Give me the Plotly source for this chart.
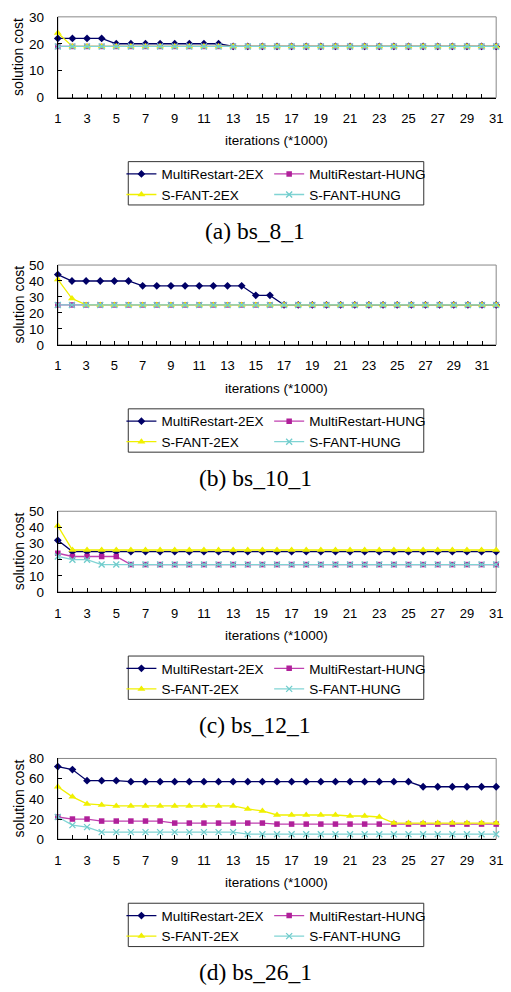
import plotly.graph_objects as go

# ---------------- data ----------------
SERIES_NAMES = ["MultiRestart-2EX", "MultiRestart-HUNG", "S-FANT-2EX", "S-FANT-HUNG"]
X_TITLE = "iterations (*1000)"
Y_TITLE = "solution cost"
CAPTIONS = ["(a) bs_8_1", "(b) bs_10_1", "(c) bs_12_1", "(d) bs_26_1"]

ITER_31 = list(range(1, 32))
ITER_32 = list(range(1, 33))
XTICK_LABELS_31 = ["1", "", "3", "", "5", "", "7", "", "9", "", "11", "", "13", "", "15", "",
                   "17", "", "19", "", "21", "", "23", "", "25", "", "27", "", "29", "", "31"]
XTICK_LABELS_32 = XTICK_LABELS_31 + [""]

# (a) bs_8_1
A_MR_2EX = [22, 22, 22, 22, 20, 20, 20, 20, 20, 20, 20, 20, 19, 19, 19, 19, 19, 19, 19, 19,
            19, 19, 19, 19, 19, 19, 19, 19, 19, 19, 19]
A_MR_HUNG = [19, 19, 19, 19, 19, 19, 19, 19, 19, 19, 19, 19, 19, 19, 19, 19, 19, 19, 19, 19,
             19, 19, 19, 19, 19, 19, 19, 19, 19, 19, 19]
A_SF_2EX = [24, 19, 19, 19, 19, 19, 19, 19, 19, 19, 19, 19, 19, 19, 19, 19, 19, 19, 19, 19,
            19, 19, 19, 19, 19, 19, 19, 19, 19, 19, 19]
A_SF_HUNG = [19, 19, 19, 19, 19, 19, 19, 19, 19, 19, 19, 19, 19, 19, 19, 19, 19, 19, 19, 19,
             19, 19, 19, 19, 19, 19, 19, 19, 19, 19, 19]
A_YTICKS = [0, 10, 20, 30]

# (b) bs_10_1  (32 iterations)
B_MR_2EX = [44, 40, 40, 40, 40, 40, 37, 37, 37, 37, 37, 37, 37, 37, 31, 31, 25, 25, 25, 25,
            25, 25, 25, 25, 25, 25, 25, 25, 25, 25, 25, 25]
B_MR_HUNG = [25, 25, 25, 25, 25, 25, 25, 25, 25, 25, 25, 25, 25, 25, 25, 25, 25, 25, 25, 25,
             25, 25, 25, 25, 25, 25, 25, 25, 25, 25, 25, 25]
B_SF_2EX = [41, 29, 25, 25, 25, 25, 25, 25, 25, 25, 25, 25, 25, 25, 25, 25, 25, 25, 25, 25,
            25, 25, 25, 25, 25, 25, 25, 25, 25, 25, 25, 25]
B_SF_HUNG = [25, 25, 25, 25, 25, 25, 25, 25, 25, 25, 25, 25, 25, 25, 25, 25, 25, 25, 25, 25,
             25, 25, 25, 25, 25, 25, 25, 25, 25, 25, 25, 25]
B_YTICKS = [0, 10, 20, 30, 40, 50]

# (c) bs_12_1
C_MR_2EX = [32, 25, 25, 25, 25, 25, 25, 25, 25, 25, 25, 25, 25, 25, 25, 25, 25, 25, 25, 25,
            25, 25, 25, 25, 25, 25, 25, 25, 25, 25, 25]
C_MR_HUNG = [24, 22, 22, 22, 22, 17, 17, 17, 17, 17, 17, 17, 17, 17, 17, 17, 17, 17, 17, 17,
             17, 17, 17, 17, 17, 17, 17, 17, 17, 17, 17]
C_SF_2EX = [41, 26, 26, 26, 26, 26, 26, 26, 26, 26, 26, 26, 26, 26, 26, 26, 26, 26, 26, 26,
            26, 26, 26, 26, 26, 26, 26, 26, 26, 26, 26]
C_SF_HUNG = [22, 20, 20, 17, 17, 17, 17, 17, 17, 17, 17, 17, 17, 17, 17, 17, 17, 17, 17, 17,
             17, 17, 17, 17, 17, 17, 17, 17, 17, 17, 17]
C_YTICKS = [0, 10, 20, 30, 40, 50]

# (d) bs_26_1
D_MR_2EX = [72, 69, 58, 58, 58, 57, 57, 57, 57, 57, 57, 57, 57, 57, 57, 57, 57, 57, 57, 57,
            57, 57, 57, 57, 57, 52, 52, 52, 52, 52, 52]
D_MR_HUNG = [22, 20, 20, 18, 18, 18, 18, 18, 16, 16, 16, 16, 16, 16, 16, 15, 15, 15, 15, 15,
             15, 15, 15, 15, 15, 15, 15, 15, 15, 15, 15]
D_SF_2EX = [52, 42, 35, 34, 33, 33, 33, 33, 33, 33, 33, 33, 33, 30, 28, 24, 24, 24, 24, 24,
            23, 23, 22, 16, 16, 16, 16, 16, 16, 16, 16]
D_SF_HUNG = [22, 14, 12, 7, 7, 7, 7, 7, 7, 7, 7, 7, 7, 5, 5, 5, 5, 5, 5, 5,
             5, 5, 5, 5, 5, 5, 5, 5, 5, 5, 5]
D_YTICKS = [0, 20, 40, 60, 80]

PANELS = [
    dict(x=ITER_31, xlabels=XTICK_LABELS_31, series=[A_MR_2EX, A_MR_HUNG, A_SF_2EX, A_SF_HUNG], yticks=A_YTICKS),
    dict(x=ITER_32, xlabels=XTICK_LABELS_32, series=[B_MR_2EX, B_MR_HUNG, B_SF_2EX, B_SF_HUNG], yticks=B_YTICKS),
    dict(x=ITER_31, xlabels=XTICK_LABELS_31, series=[C_MR_2EX, C_MR_HUNG, C_SF_2EX, C_SF_HUNG], yticks=C_YTICKS),
    dict(x=ITER_31, xlabels=XTICK_LABELS_31, series=[D_MR_2EX, D_MR_HUNG, D_SF_2EX, D_SF_HUNG], yticks=D_YTICKS),
]

# ---------------- styling / geometry ----------------
W, H = 511, 992
PLOT_LEFT, PLOT_RIGHT = 55, 503
PANEL_TOP = [10, 262, 512, 763]
PANEL_BOTTOM = [92, 343, 594, 845]

SANS = "Liberation Sans, Arial, sans-serif"
SERIF = "Liberation Serif, Times New Roman, serif"

LINE_COLORS = ["#000066", "#C040B0", "#F0F000", "#80D4D4"]
MARKER_COLORS = ["#000066", "#B0209A", "#F0F000", "#70CCCC"]
SYMBOLS = ["diamond", "square", "triangle-up", "x-thin"]
SIZES = [6, 5.5, 7, 6]
LEGEND_COL = [0, 1, 0, 1]


def py(p):
    return 1 - p / H


def px(p):
    return p / W


fig = go.Figure()
shapes = []
annotations = []
layout_axes = {}
legends = {}

for i, panel in enumerate(PANELS):
    n = i + 1
    xa = "x" if n == 1 else f"x{n}"
    ya = "y" if n == 1 else f"y{n}"
    for s, vals in enumerate(panel["series"]):
        leg_idx = 2 * i + LEGEND_COL[s] + 1
        leg_name = "legend" if leg_idx == 1 else f"legend{leg_idx}"
        marker = dict(symbol=SYMBOLS[s], size=SIZES[s], color=MARKER_COLORS[s])
        if SYMBOLS[s] == "x-thin":
            marker["line"] = dict(color=MARKER_COLORS[s], width=1.3)
        else:
            marker["line"] = dict(color=MARKER_COLORS[s], width=0)
        fig.add_trace(go.Scatter(
            x=panel["x"], y=vals, name=SERIES_NAMES[s], mode="lines+markers",
            line=dict(color=LINE_COLORS[s], width=1.3), marker=marker,
            xaxis=xa, yaxis=ya, legend=leg_name, cliponaxis=False,
        ))

    top, bot = PANEL_TOP[i], PANEL_BOTTOM[i]
    xkey = "xaxis" if n == 1 else f"xaxis{n}"
    ykey = "yaxis" if n == 1 else f"yaxis{n}"
    layout_axes[xkey] = dict(
        domain=[px(PLOT_LEFT), px(PLOT_RIGHT)], anchor=ya,
        range=[panel["x"][0], panel["x"][-1]], tickmode="array",
        tickvals=panel["x"], ticktext=panel["xlabels"],
        ticks="inside", ticklen=4, tickcolor="black", tickwidth=1,
        showline=True, linecolor="black", linewidth=1,
        showgrid=False, zeroline=False, ticklabelstandoff=9,
        tickfont=dict(family=SANS, size=13, color="black"),
    )
    layout_axes[ykey] = dict(
        domain=[py(bot), py(top)], anchor=xa,
        range=[panel["yticks"][0], panel["yticks"][-1]], tickmode="array",
        tickvals=panel["yticks"],
        ticks="inside", ticklen=4, tickcolor="black", tickwidth=1,
        showline=True, linecolor="black", linewidth=1,
        showgrid=False, zeroline=False, ticklabelstandoff=10,
        tickfont=dict(family=SANS, size=13.5, color="black"),
    )
    # grey frame (top / right)
    shapes.append(dict(type="rect", xref=f"{xa} domain", yref=f"{ya} domain",
                       x0=0, x1=1, y0=0, y1=1, line=dict(color="#888888", width=1),
                       layer="below"))
    # axis titles
    annotations.append(dict(text=X_TITLE, xref="paper", yref="paper",
                            x=px((PLOT_LEFT + PLOT_RIGHT) / 2), y=py(bot + 44),
                            xanchor="center", yanchor="middle", showarrow=False,
                            font=dict(family=SANS, size=13.5, color="black")))
    annotations.append(dict(text=Y_TITLE, xref="paper", yref="paper",
                            x=px(15), y=py((top + bot) / 2), textangle=-90,
                            xanchor="center", yanchor="middle", showarrow=False,
                            font=dict(family=SANS, size=14, color="black")))
    # caption
    annotations.append(dict(text=CAPTIONS[i], xref="paper", yref="paper",
                            x=px(257), y=py(bot + 135),
                            xanchor="center", yanchor="middle", showarrow=False,
                            font=dict(family=SERIF, size=23.5, color="black")))
    # legend box + two legend columns
    box_top = bot + 65
    shapes.append(dict(type="rect", xref="paper", yref="paper",
                       x0=px(127), x1=px(429), y0=py(box_top), y1=py(box_top + 44),
                       line=dict(color="#333333", width=1)))
    for c, lx in enumerate([120, 271]):
        idx = 2 * i + c + 1
        key = "legend" if idx == 1 else f"legend{idx}"
        legends[key] = dict(
            x=px(lx), y=py(box_top - 3), xanchor="left", yanchor="top",
            orientation="v", bgcolor="rgba(0,0,0,0)", borderwidth=0,
            font=dict(family=SANS, size=13.5, color="black"),
            tracegroupgap=0, itemwidth=30,
        )

fig.update_layout(
    width=W, height=H, margin=dict(l=0, r=0, t=0, b=0),
    paper_bgcolor="white", plot_bgcolor="white",
    showlegend=True, shapes=shapes, annotations=annotations,
    **layout_axes, **legends,
)

fig.write_html("out.html", config={"displayModeBar": False},
               post_script="document.body.style.margin='0';")
